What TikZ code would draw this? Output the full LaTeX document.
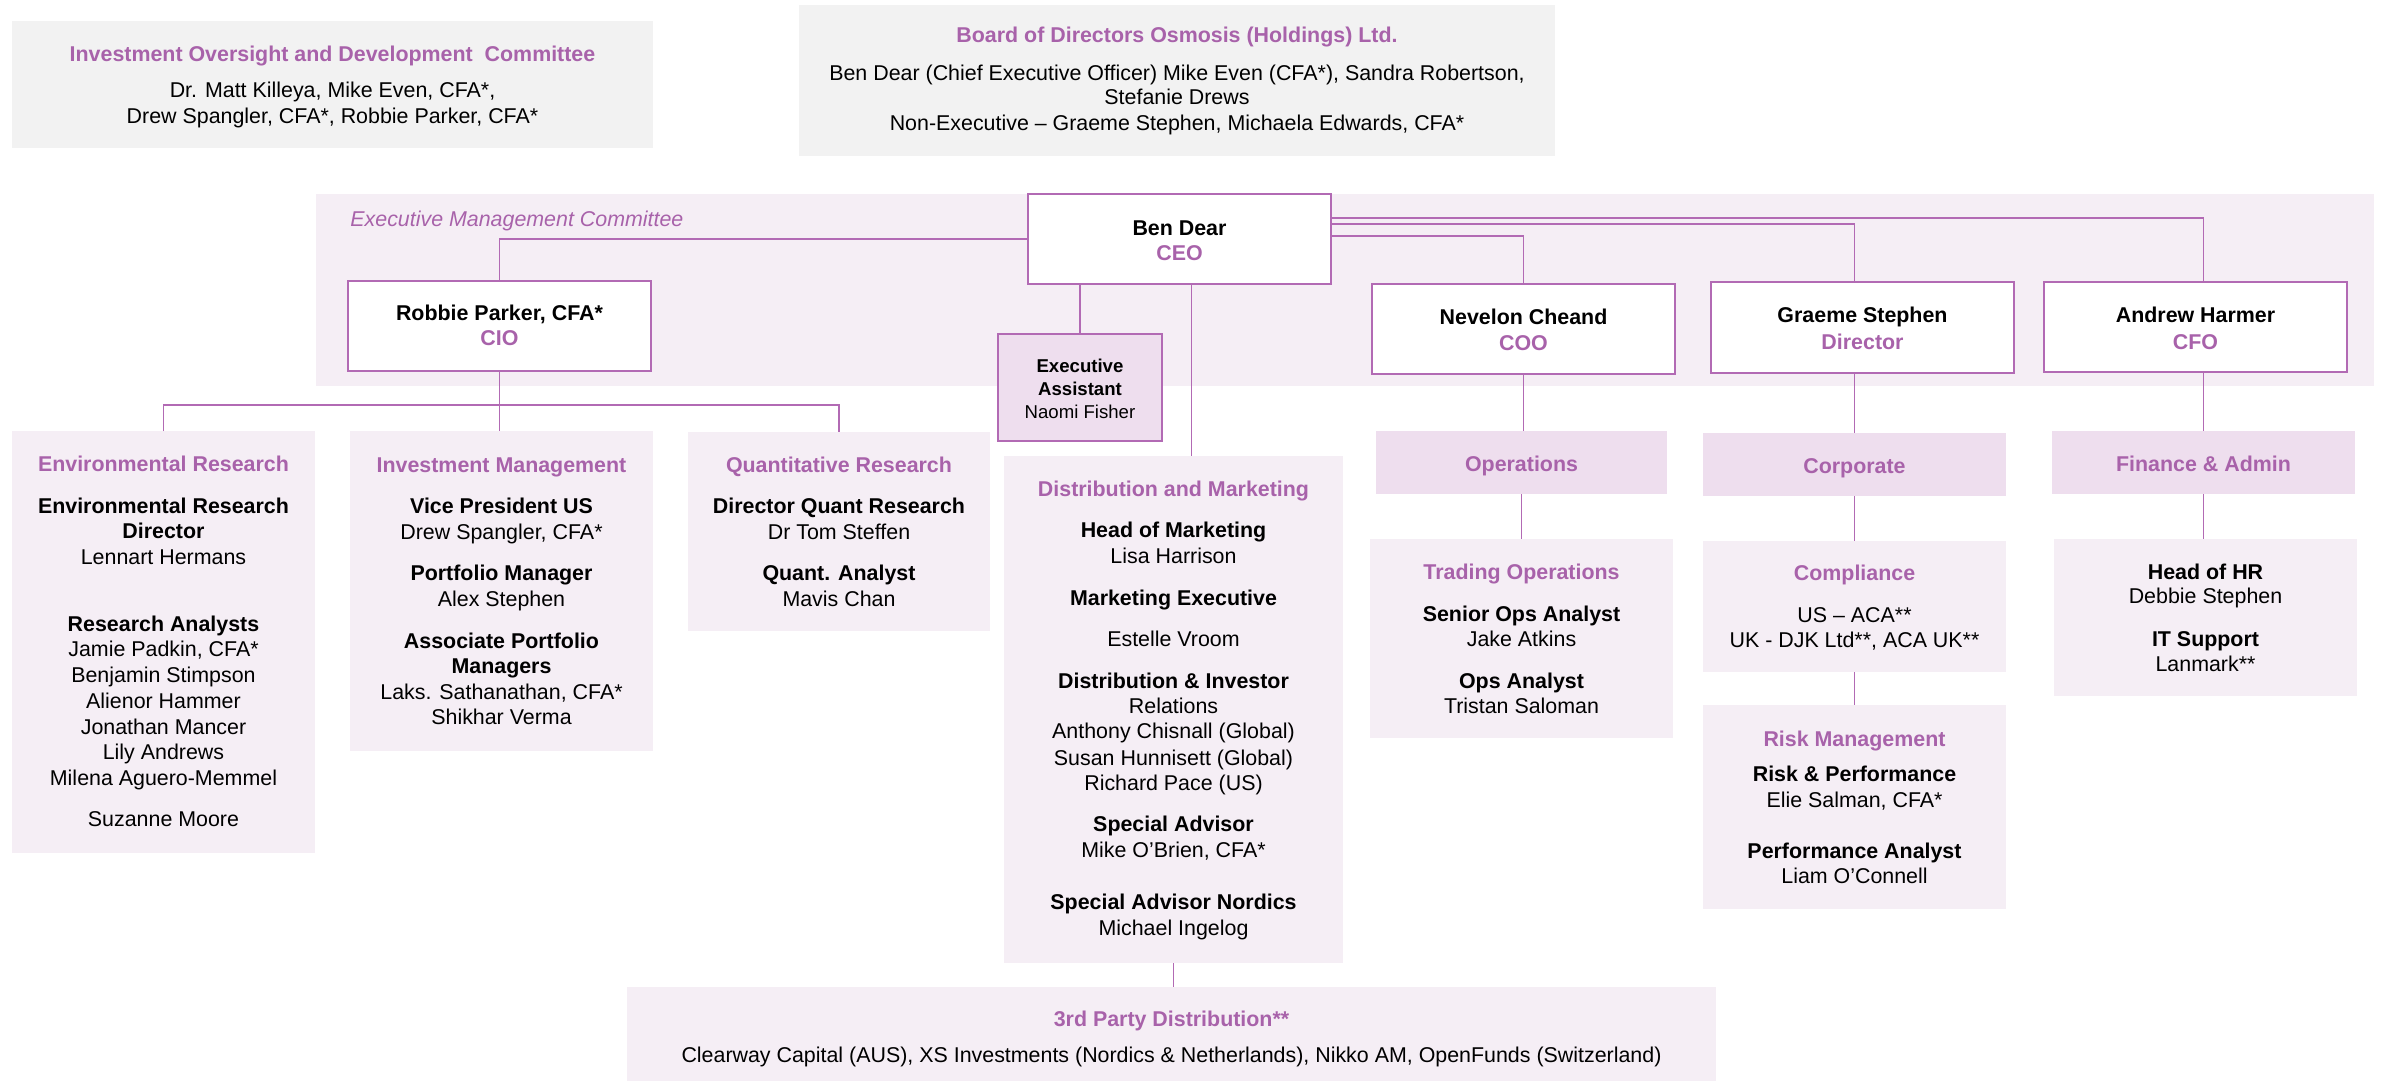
\documentclass[tikz,border=0pt]{standalone}
\usepackage{fontspec}
\setmainfont{Liberation Sans}
\usetikzlibrary{calc}
\definecolor{ptext}{RGB}{168,98,170}
\definecolor{pline}{RGB}{178,106,180}
\definecolor{band}{RGB}{245,238,245}
\definecolor{hdr}{RGB}{238,222,238}
\definecolor{greybox}{RGB}{242,242,242}
\tikzset{
 area/.style={fill=band, draw=none},
 hdrbox/.style={fill=hdr, draw=none},
 gbox/.style={fill=greybox, draw=none},
 rolebox/.style={fill=white, draw=pline, line width=1pt},
 thickrole/.style={rolebox, line width=1.4pt},
 eabox/.style={fill=hdr, draw=pline, line width=1pt},
 conn/.style={draw=pline, line width=0.6pt},
 txt/.style={font=\fontsize{10.7}{12}\selectfont, inner sep=0pt, anchor=base},
 bt/.style={txt, font=\fontsize{10.7}{12}\selectfont\bfseries},
 pt/.style={bt, text=ptext},
 st/.style={txt, font=\fontsize{9.3}{11}\selectfont},
 sbt/.style={txt, font=\fontsize{9.3}{11}\selectfont\bfseries},
}
\newcommand\bx[6]{\node[#6, minimum width={(#4-#2)*0.5pt}, minimum height={(#5-#3)*0.5pt}, inner sep=0pt, outer sep=0pt] (#1) at ({(#2+#4)/2},{(#3+#5)/2}) {};}
\newcommand\tx[5]{\node[#4] (#1) at (#2,{#3+7.5}) {#5};}
\begin{document}
\begin{tikzpicture}[x=0.5pt,y=-0.5pt]
\useasboundingbox (0,0) rectangle (2382,1081);
% backgrounds
\bx{iodc}{12}{21}{653}{148}{gbox}
\bx{board}{799}{5}{1555}{156}{gbox}
\bx{emc}{316}{194}{2374}{386}{area}
% role boxes
\bx{ceo}{1028}{194}{1331}{284}{rolebox}
\bx{cio}{348}{281}{651}{371}{rolebox}
\bx{ea}{998}{334}{1162}{441}{eabox}
\bx{coo}{1372}{284}{1675}{374}{thickrole}
\bx{dir}{1711}{282}{2014}{373}{thickrole}
\bx{cfo}{2044}{282}{2347}{372}{rolebox}
% department boxes
\bx{env}{12}{431}{315}{853}{area}
\bx{inv}{350}{431}{653}{751}{area}
\bx{qnt}{688}{432}{990}{631}{area}
\bx{dm}{1004}{456}{1343}{963}{area}
\bx{third}{627}{987}{1716}{1081}{area}
\bx{ops}{1376}{431}{1667}{494}{hdrbox}
\bx{corp}{1703}{433}{2006}{496}{hdrbox}
\bx{fin}{2052}{431}{2355}{494}{hdrbox}
\bx{trd}{1370}{539}{1673}{738}{area}
\bx{comp}{1703}{541}{2006}{672}{area}
\bx{risk}{1703}{705}{2006}{909}{area}
\bx{hr}{2054}{539}{2357}{696}{area}
% connectors
\draw[conn] (ceo.west) -| (cio.north);
\draw[conn] ($(ceo.east)+(0,-3)$) -| (coo.north);
\draw[conn] ($(ceo.east)+(0,-15)$) -| (corp.north |- dir.north);
\draw[conn] ($(ceo.east)+(0,-21)$) -| (fin.north |- cfo.north);
\draw[conn] (coo.south) -- (coo.south |- ops.north);
\draw[conn] (ops.south) -- (ops.south |- trd.north);
\draw[conn] (corp.north |- dir.south) -- (corp.north);
\draw[conn] (corp.south) -- (comp.north);
\draw[conn] (comp.south) -- (risk.north);
\draw[conn] (fin.north |- cfo.south) -- (fin.north);
\draw[conn] (fin.south) -- (fin.south |- hr.north);
\draw[conn] (ceo.south -| ea.north) -- (ea.north);
\coordinate (dmtop) at ($(ceo.south)+(12,0)$);
\draw[conn] (dmtop) -- (dmtop |- dm.north);
\draw[conn] (dm.south) -- (dm.south |- third.north);
\coordinate (cioj) at ($(cio.south)+(0,34)$);
\draw[conn] (cio.south) -- (cio.south |- inv.north);
\draw[conn] (env.north) |- (cioj) -| (qnt.north);
% top texts
\tx{iodcT}{332.5}{54}{pt}{Investment Oversight and Development\ \ Committee}
\tx{iodc1}{332.5}{90}{txt}{Dr. Matt Killeya, Mike Even, CFA*,}
\tx{iodc2}{332.5}{116}{txt}{Drew Spangler, CFA*, Robbie Parker, CFA*}
\tx{boardT}{1177}{35}{pt}{Board of Directors Osmosis (Holdings) Ltd.}
\tx{board1}{1177}{73}{txt}{Ben Dear (Chief Executive Officer) Mike Even (CFA*), Sandra Robertson,}
\tx{board2}{1177}{97}{txt}{Stefanie Drews}
\tx{board3}{1177}{123}{txt}{Non-Executive – Graeme Stephen, Michaela Edwards, CFA*}
\node[txt, anchor=base west, font=\fontsize{10.7}{12}\selectfont\itshape, text=ptext] (emcT) at (350,226.5) {Executive Management Committee};
% role texts
\tx{ceo1}{1179.5}{228}{bt}{Ben Dear}
\tx{ceo2}{1179.5}{253}{pt}{CEO}
\tx{cio1}{499.5}{313}{bt}{Robbie Parker, CFA*}
\tx{cio2}{499.5}{338}{pt}{CIO}
\tx{ea1}{1080}{365}{sbt}{Executive}
\tx{ea2}{1080}{388}{sbt}{Assistant}
\tx{ea3}{1080}{411}{st}{Naomi Fisher}
\tx{coo1}{1523.5}{317}{bt}{Nevelon Cheand}
\tx{coo2}{1523.5}{343}{pt}{COO}
\tx{dir1}{1862.5}{315}{bt}{Graeme Stephen}
\tx{dir2}{1862.5}{342}{pt}{Director}
\tx{cfo1}{2195.5}{315}{bt}{Andrew Harmer}
\tx{cfo2}{2195.5}{342}{pt}{CFO}
% Environmental Research
\tx{envT}{163.5}{464}{pt}{Environmental Research}
\tx{env1}{163.5}{506}{bt}{Environmental Research}
\tx{env2}{163.5}{531}{bt}{Director}
\tx{env3}{163.5}{557}{txt}{Lennart Hermans}
\tx{env4}{163.5}{624}{bt}{Research Analysts}
\tx{env5}{163.5}{649}{txt}{Jamie Padkin, CFA*}
\tx{env6}{163.5}{675}{txt}{Benjamin Stimpson}
\tx{env7}{163.5}{701}{txt}{Alienor Hammer}
\tx{env8}{163.5}{727}{txt}{Jonathan Mancer}
\tx{env9}{163.5}{752}{txt}{Lily Andrews}
\tx{env10}{163.5}{778}{txt}{Milena Aguero-Memmel}
\tx{env11}{163.5}{819}{txt}{Suzanne Moore}
% Investment Management
\tx{invT}{501.5}{465}{pt}{Investment Management}
\tx{inv1}{501.5}{506}{bt}{Vice President US}
\tx{inv2}{501.5}{532}{txt}{Drew Spangler, CFA*}
\tx{inv3}{501.5}{573}{bt}{Portfolio Manager}
\tx{inv4}{501.5}{599}{txt}{Alex Stephen}
\tx{inv5}{501.5}{641}{bt}{Associate Portfolio}
\tx{inv6}{501.5}{666}{bt}{Managers}
\tx{inv7}{501.5}{692}{txt}{Laks. Sathanathan, CFA*}
\tx{inv8}{501.5}{717}{txt}{Shikhar Verma}
% Quantitative Research
\tx{qntT}{839}{465}{pt}{Quantitative Research}
\tx{qnt1}{839}{506}{bt}{Director Quant Research}
\tx{qnt2}{839}{532}{txt}{Dr Tom Steffen}
\tx{qnt3}{839}{573}{bt}{Quant. Analyst}
\tx{qnt4}{839}{599}{txt}{Mavis Chan}
% Distribution and Marketing
\tx{dmT}{1173.5}{489}{pt}{Distribution and Marketing}
\tx{dm1}{1173.5}{530}{bt}{Head of Marketing}
\tx{dm2}{1173.5}{556}{txt}{Lisa Harrison}
\tx{dm3}{1173.5}{598}{bt}{Marketing Executive}
\tx{dm4}{1173.5}{639}{txt}{Estelle Vroom}
\tx{dm5}{1173.5}{681}{bt}{Distribution \& Investor}
\tx{dm6}{1173.5}{706}{txt}{Relations}
\tx{dm7}{1173.5}{731}{txt}{Anthony Chisnall (Global)}
\tx{dm8}{1173.5}{758}{txt}{Susan Hunnisett (Global)}
\tx{dm9}{1173.5}{783}{txt}{Richard Pace (US)}
\tx{dm10}{1173.5}{824}{bt}{Special Advisor}
\tx{dm11}{1173.5}{850}{txt}{Mike O'Brien, CFA*}
\tx{dm12}{1173.5}{902}{bt}{Special Advisor Nordics}
\tx{dm13}{1173.5}{928}{txt}{Michael Ingelog}
% 3rd party
\tx{thirdT}{1171.5}{1019}{pt}{3rd Party Distribution**}
\tx{third1}{1171.5}{1055}{txt}{Clearway Capital (AUS), XS Investments (Nordics \& Netherlands), Nikko AM, OpenFunds (Switzerland)}
% Operations
\tx{opsT}{1521.5}{464}{pt}{Operations}
\tx{trdT}{1521.5}{572}{pt}{Trading Operations}
\tx{trd1}{1521.5}{614}{bt}{Senior Ops Analyst}
\tx{trd2}{1521.5}{639}{txt}{Jake Atkins}
\tx{trd3}{1521.5}{681}{bt}{Ops Analyst}
\tx{trd4}{1521.5}{706}{txt}{Tristan Saloman}
% Corporate
\tx{corpT}{1854.5}{466}{pt}{Corporate}
\tx{compT}{1854.5}{573}{pt}{Compliance}
\tx{comp1}{1854.5}{615}{txt}{US – ACA**}
\tx{comp2}{1854.5}{640}{txt}{UK - DJK Ltd**, ACA UK**}
\tx{riskT}{1854.5}{739}{pt}{Risk Management}
\tx{risk1}{1854.5}{774}{bt}{Risk \& Performance}
\tx{risk2}{1854.5}{800}{txt}{Elie Salman, CFA*}
\tx{risk3}{1854.5}{851}{bt}{Performance Analyst}
\tx{risk4}{1854.5}{876}{txt}{Liam O’Connell}
% Finance
\tx{finT}{2203.5}{464}{pt}{Finance \& Admin}
\tx{hr1}{2205.5}{572}{bt}{Head of HR}
\tx{hr2}{2205.5}{596}{txt}{Debbie Stephen}
\tx{hr3}{2205.5}{639}{bt}{IT Support}
\tx{hr4}{2205.5}{664}{txt}{Lanmark**}
\end{tikzpicture}
\end{document}
